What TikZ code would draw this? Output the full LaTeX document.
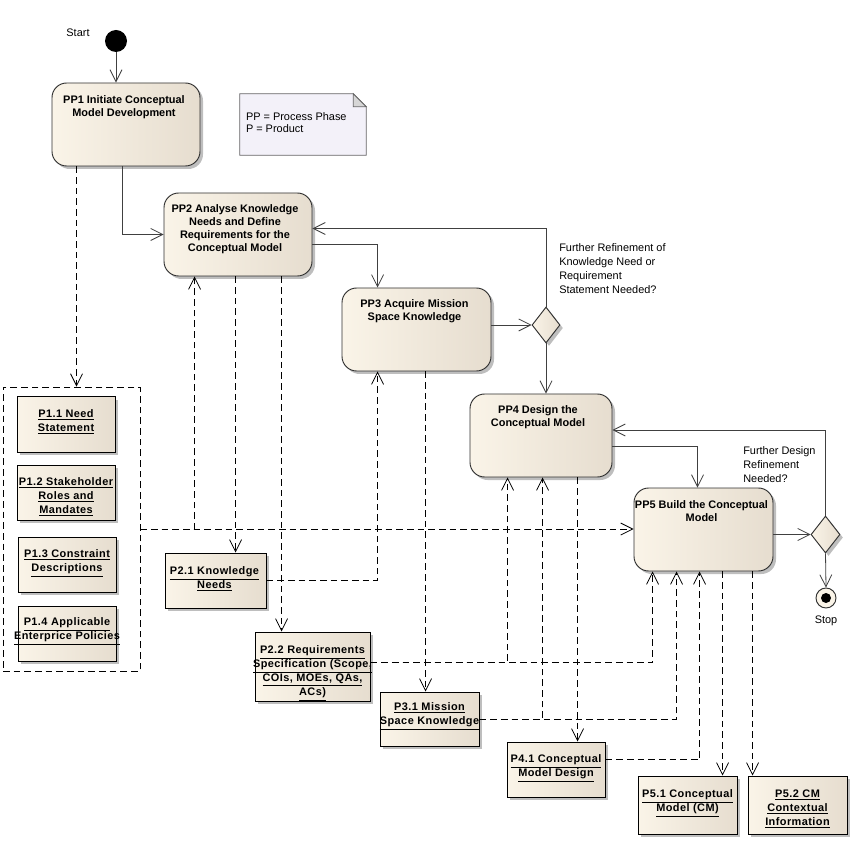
\documentclass[tikz,border=0pt]{standalone}
\usepackage{fontspec}
\setmainfont{Liberation Sans}
\usetikzlibrary{arrows.meta,calc,shapes.geometric,shadows}
\definecolor{creamL}{HTML}{FAF4E8}
\definecolor{creamR}{HTML}{E6DDCF}
\definecolor{edge}{HTML}{303030}
\definecolor{wire}{HTML}{404040}
\definecolor{notefill}{HTML}{F3F1F9}
\definecolor{notefold}{HTML}{D6D6D6}
\definecolor{shade}{HTML}{BEBEBE}
\begin{document}
\begin{tikzpicture}[x=0.75pt,y=-0.75pt,
  sz/.style 2 args={minimum width=#1*0.75pt, minimum height=#2*0.75pt},
  shad/.style={general shadow={fill=shade, shadow xshift=2.25pt, shadow yshift=-2.25pt}},
  action/.style={shape=rectangle, rounded corners=11pt, draw=edge, line width=0.7pt, left color=creamL, right color=creamR, shad, inner sep=0pt},
  product/.style={shape=rectangle, draw=black, line width=0.75pt, left color=creamL, right color=creamR, shad, inner sep=0pt},
  decision/.style={shape=diamond, draw=edge, line width=0.7pt, left color=creamL, right color=creamR, shad, inner sep=0pt},
  atext/.style={anchor=north, inner sep=0pt, align=center, font=\fontsize{8.2}{9.8}\selectfont\bfseries},
  ptext/.style={anchor=north, inner sep=0pt, align=center, font=\fontsize{8.2}{10.5}\selectfont\bfseries\addfontfeatures{LetterSpace=4}},
  lbl/.style={inner sep=0pt, align=left, font=\fontsize{8.2}{10.5}\selectfont},
  flow/.style={draw=wire, line width=0.6pt, -{Straight Barb[length=9pt,width=9pt]}},
  dep/.style={draw=black, line width=0.6pt, dash pattern=on 5pt off 3pt, -{Straight Barb[length=9pt,width=9pt]}},
  dline/.style={draw=black, line width=0.6pt, dash pattern=on 5pt off 3pt},
]
\path[use as bounding box] (0,0) rectangle (860,848);

% start / stop
\node[circle, fill=black, sz={22}{22}, inner sep=0pt] (start) at (116,41) {};
\node[lbl] (startl) at (78,33) {Start};

% note
\node[sz={126}{61}, inner sep=0pt] (note) at (303,124.5) {};
\draw[draw=black!60, fill=notefill, line width=0.6pt] (note.north west) -- ($(note.north east)+(-13,0)$) -- ($(note.north east)+(0,13)$) -- (note.south east) -- (note.south west) -- cycle;
\draw[draw=black!60, fill=notefold, line width=0.6pt] ($(note.north east)+(-13,0)$) -- ($(note.north east)+(-13,13)$) -- ($(note.north east)+(0,13)$) -- cycle;
\node[lbl, anchor=north west, font=\fontsize{8.2}{9}\selectfont] (notet) at ($(note.north west)+(6,19)$) {PP = Process Phase\\P = Product};

% actions
\node[action, sz={148}{83}] (pp1) at (126,124.5) {};
\node[atext] (pp1t) at ($(pp1.north)+(-2,13)$) {PP1 Initiate Conceptual\\Model Development};
\node[action, sz={148}{83}] (pp2) at (238,234.5) {};
\node[atext] (pp2t) at ($(pp2.north)+(-3,12)$) {PP2 Analyse Knowledge\\Needs and Define\\Requirements for the\\Conceptual Model};
\node[action, sz={149}{83}] (pp3) at (416.5,329.5) {};
\node[atext] (pp3t) at ($(pp3.north)+(-2,12)$) {PP3 Acquire Mission\\Space Knowledge};
\node[action, sz={142}{83}] (pp4) at (541,435.5) {};
\node[atext] (pp4t) at ($(pp4.north)+(-3,12)$) {PP4 Design the\\Conceptual Model};
\node[action, sz={139}{83}] (pp5) at (703.5,529.5) {};
\node[atext] (pp5t) at ($(pp5.north)+(-2,13)$) {PP5 Build the Conceptual\\Model};

% decisions
\node[decision, sz={28}{36}] (d1) at (546,325) {};
\node[decision, sz={29}{37}] (d2) at (825.5,534.5) {};
\node[circle, draw=edge, line width=0.7pt, fill=creamL, sz={20}{20}, inner sep=0pt] (stop) at (826,598) {};
\node[circle, fill=black, sz={10}{10}, inner sep=0pt] (stopin) at (stop.center) {};
\node[lbl] (stopl) at (826,621) {Stop};

\node[lbl, anchor=north west] (q1l) at (559,243) {Further Refinement of\\Knowledge Need or\\Requirement\\Statement Needed?};
\node[lbl, anchor=north west] (q2l) at (743,446) {Further Design\\Refinement\\Needed?};

% product group
\node[sz={137}{284}, inner sep=0pt, dline] (grp) at (71.5,529) {};

% products
\node[product, sz={98}{55}] (p11) at (66,424.5) {};
\node[ptext] (p11t) at ($(p11.north)+(0,13)$) {\underline{P1.1 Need}\\\underline{Statement}};
\node[product, sz={98}{55}] (p12) at (66,492.5) {};
\node[ptext] (p12t) at ($(p12.north)+(0,13)$) {\underline{P1.2 Stakeholder}\\\underline{Roles and}\\\underline{Mandates}};
\node[product, sz={98}{55}] (p13) at (67,564.5) {};
\node[ptext] (p13t) at ($(p13.north)+(0,13)$) {\underline{P1.3 Constraint}\\\underline{Descriptions}};
\node[product, sz={98}{55}] (p14) at (67,633.5) {};
\node[ptext] (p14t) at ($(p14.north)+(0,12)$) {\underline{P1.4 Applicable}\\\underline{Enterprice Policies}};
\node[product, sz={101}{55}] (p21) at (215.5,580.5) {};
\node[ptext] (p21t) at ($(p21.north)+(-1,14)$) {\underline{P2.1 Knowledge}\\\underline{Needs}};
\node[product, sz={115}{69}] (p22) at (312.5,666.5) {};
\node[ptext] (p22t) at ($(p22.north)+(0,14)$) {\underline{P2.2 Requirements}\\\underline{Specification (Scope,}\\\underline{COIs, MOEs, QAs,}\\\underline{ACs)}};
\node[product, sz={99}{54}] (p31) at (429.5,719) {};
\node[ptext] (p31t) at ($(p31.north)+(0,11)$) {\underline{P3.1 Mission}\\\underline{Space Knowledge}};
\node[product, sz={98}{55}] (p41) at (556,769.5) {};
\node[ptext] (p41t) at ($(p41.north)+(0,13)$) {\underline{P4.1 Conceptual}\\\underline{Model Design}};
\node[product, sz={99}{58}] (p51) at (687.5,805) {};
\node[ptext] (p51t) at ($(p51.north)+(0,14)$) {\underline{P5.1 Conceptual}\\\underline{Model (CM)}};
\node[product, sz={99}{58}] (p52) at (797.5,805) {};
\node[ptext] (p52t) at ($(p52.north)+(0,14)$) {\underline{P5.2 CM}\\\underline{Contextual}\\\underline{Information}};

% ports
\coordinate (a1) at ($(pp1.south west)+(71,0)$);
\coordinate (a2) at ($(pp2.east)+(0,10)$);
\coordinate (a3) at ($(pp3.north west)+(36,0)$);
\coordinate (a4) at ($(pp2.east)+(0,-6)$);
\coordinate (a5) at ($(pp4.east)+(0,11)$);
\coordinate (a6) at ($(pp5.north)+(-6,0)$);
\coordinate (a7) at ($(pp4.east)+(0,-5.5)$);
\coordinate (k1) at ($(pp1.south west)+(25,0)$);
\coordinate (q0) at ($(pp2.south west)+(31,0)$);
\coordinate (q1) at ($(pp2.south west)+(72,0)$);
\coordinate (q2) at ($(pp2.south west)+(118,0)$);
\coordinate (r1) at ($(pp3.south west)+(36,0)$);
\coordinate (r2) at ($(pp3.south west)+(84,0)$);
\coordinate (s1) at ($(pp4.south west)+(38,0)$);
\coordinate (s3) at ($(pp4.south west)+(73,0)$);
\coordinate (s5) at ($(pp4.south west)+(108,0)$);
\coordinate (s2) at ($(pp5.south west)+(19,0)$);
\coordinate (s4) at ($(pp5.south west)+(43,0)$);
\coordinate (s6) at ($(pp5.south west)+(66,0)$);
\coordinate (s7) at ($(pp5.south west)+(89,0)$);
\coordinate (s8) at ($(pp5.south west)+(119,0)$);
\coordinate (e22) at ($(p22.north east)+(0,31)$);
\coordinate (e41) at ($(p41.north east)+(0,18)$);

% control flows
\draw[flow] (start) -- (start |- pp1.north);
\draw[flow] (a1) |- (pp2.west);
\draw[flow] (a2) -| (a3);
\draw[flow] (d1.north) |- (a4);
\draw[flow] (pp3.east |- d1.west) -- (d1.west);
\draw[flow] (d1.south) -- (d1.south |- pp4.north);
\draw[flow] (a5) -| (a6);
\draw[flow] (d2.north) |- (a7);
\draw[flow] (pp5.east |- d2.west) -- (d2.west);
\draw[flow] (d2.south) -- (stop.north);

% object flows
\draw[dep] (k1) -- (k1 |- grp.north);
\draw[dep] (grp.east) -| (q0);
\draw[dep] (grp.east) -- (grp.east -| pp5.west);
\draw[dep] (q1) -- (q1 |- p21.north);
\draw[dep] (q2) -- (q2 |- p22.north);
\draw[dep] (p21.east) -| (r1);
\draw[dep] (r2) -- (r2 |- p31.north);
\draw[dep] (e22) -| (s1);
\draw[dep] (e22) -| (s2);
\draw[dep] (p31.east) -| (s3);
\draw[dep] (p31.east) -| (s4);
\draw[dep] (s5) -- (s5 |- p41.north);
\draw[dep] (e41) -| (s6);
\draw[dep] (s7) -- (s7 |- p51.north);
\draw[dep] (s8) -- (s8 |- p52.north);
\end{tikzpicture}
\end{document}
